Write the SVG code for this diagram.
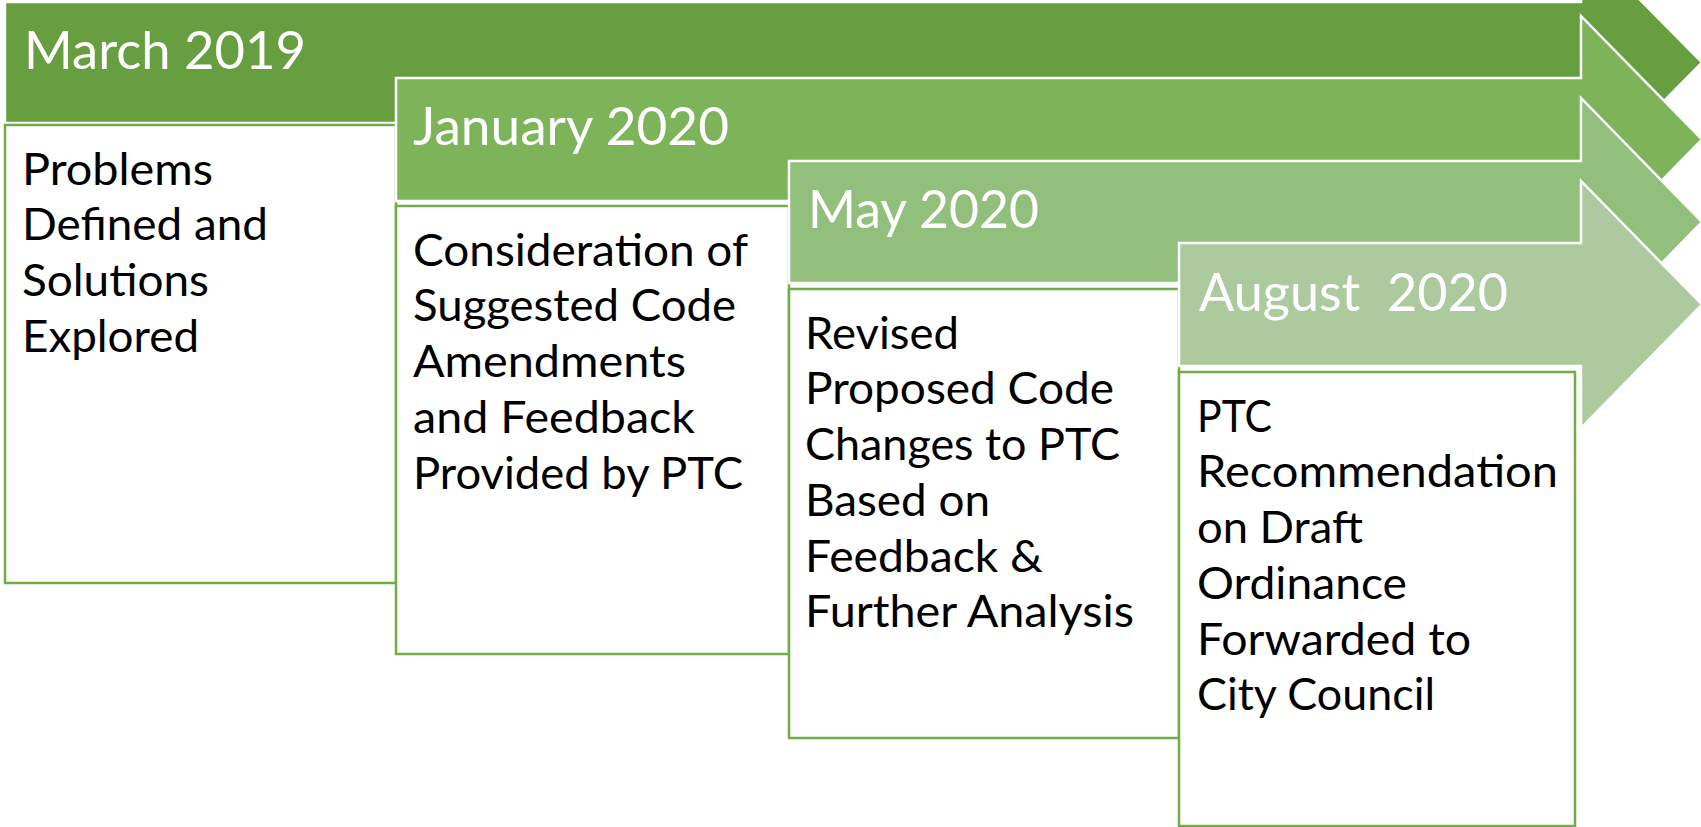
<svg xmlns="http://www.w3.org/2000/svg" width="1701" height="827" viewBox="0 0 1701 827">
<style>
.arrow{stroke:#ffffff;stroke-width:2.5;stroke-linejoin:miter}
.a1{fill:#669E40}.a2{fill:#7DB45A}.a3{fill:#93BF7D}.a4{fill:#ADCA9E}
.box{fill:#ffffff;stroke:#70AD47;stroke-width:2.5}
.hd{font-family:Lato,"Liberation Sans",sans-serif;font-size:53px;fill:#ffffff}
.bd{font-family:Lato,"Liberation Sans",sans-serif;font-size:45px;fill:#000000}
</style>
<rect width="1701" height="827" fill="#ffffff"/>
<g id="step-march-2019">
<path class="arrow a1" d="M5,2 H1581 V-60 L1702,62.5 L1581,185 V123 H5 Z"/>
<rect class="box" x="5" y="125" width="391" height="458"/>
<text class="hd" x="24" y="69" textLength="282" lengthAdjust="spacingAndGlyphs">March 2019</text>
<text class="bd" x="22" y="184.5" textLength="191" lengthAdjust="spacingAndGlyphs">Problems</text>
<text class="bd" x="22" y="240" textLength="246" lengthAdjust="spacingAndGlyphs">Defined and</text>
<text class="bd" x="22" y="296" textLength="187" lengthAdjust="spacingAndGlyphs">Solutions</text>
<text class="bd" x="22" y="352" textLength="177" lengthAdjust="spacingAndGlyphs">Explored</text>
</g>
<g id="step-january-2020">
<path class="arrow a2" d="M396,78 H1581 V16 L1702,139.5 L1581,263 V201 H396 Z"/>
<rect class="box" x="396" y="206" width="393" height="448"/>
<text class="hd" x="413" y="145" textLength="316" lengthAdjust="spacingAndGlyphs">January 2020</text>
<text class="bd" x="413" y="265.5" textLength="335" lengthAdjust="spacingAndGlyphs">Consideration of</text>
<text class="bd" x="413" y="321" textLength="323" lengthAdjust="spacingAndGlyphs">Suggested Code</text>
<text class="bd" x="413" y="377" textLength="273" lengthAdjust="spacingAndGlyphs">Amendments</text>
<text class="bd" x="413" y="433" textLength="282" lengthAdjust="spacingAndGlyphs">and Feedback</text>
<text class="bd" x="413" y="488.5" textLength="330" lengthAdjust="spacingAndGlyphs">Provided by PTC</text>
</g>
<g id="step-may-2020">
<path class="arrow a3" d="M789,161 H1581 V98 L1702,222 L1581,346 V283 H789 Z"/>
<rect class="box" x="789" y="289" width="390" height="449"/>
<text class="hd" x="808" y="228" textLength="231" lengthAdjust="spacingAndGlyphs">May 2020</text>
<text class="bd" x="805" y="348.5" textLength="154" lengthAdjust="spacingAndGlyphs">Revised</text>
<text class="bd" x="805" y="404" textLength="309" lengthAdjust="spacingAndGlyphs">Proposed Code</text>
<text class="bd" x="805" y="460" textLength="315" lengthAdjust="spacingAndGlyphs">Changes to PTC</text>
<text class="bd" x="805" y="516" textLength="185" lengthAdjust="spacingAndGlyphs">Based on</text>
<text class="bd" x="805" y="571.5" textLength="238" lengthAdjust="spacingAndGlyphs">Feedback &amp;</text>
<text class="bd" x="805" y="627" textLength="329" lengthAdjust="spacingAndGlyphs">Further Analysis</text>
</g>
<g id="step-august-2020">
<path class="arrow a4" d="M1179,243 H1581 V181 L1702,304.5 L1581,428 V366 H1179 Z"/>
<rect class="box" x="1179" y="372" width="396" height="454"/>
<text class="hd" x="1199" y="311" textLength="309" lengthAdjust="spacingAndGlyphs" xml:space="preserve">August  2020</text>
<text class="bd" x="1197" y="431.5" textLength="75" lengthAdjust="spacingAndGlyphs">PTC</text>
<text class="bd" x="1197" y="487" textLength="361" lengthAdjust="spacingAndGlyphs">Recommendation</text>
<text class="bd" x="1197" y="543" textLength="166" lengthAdjust="spacingAndGlyphs">on Draft</text>
<text class="bd" x="1197" y="599" textLength="210" lengthAdjust="spacingAndGlyphs">Ordinance</text>
<text class="bd" x="1197" y="654.5" textLength="274" lengthAdjust="spacingAndGlyphs">Forwarded to</text>
<text class="bd" x="1197" y="710" textLength="238" lengthAdjust="spacingAndGlyphs">City Council</text>
</g>
<g id="connectors"></g>
</svg>
